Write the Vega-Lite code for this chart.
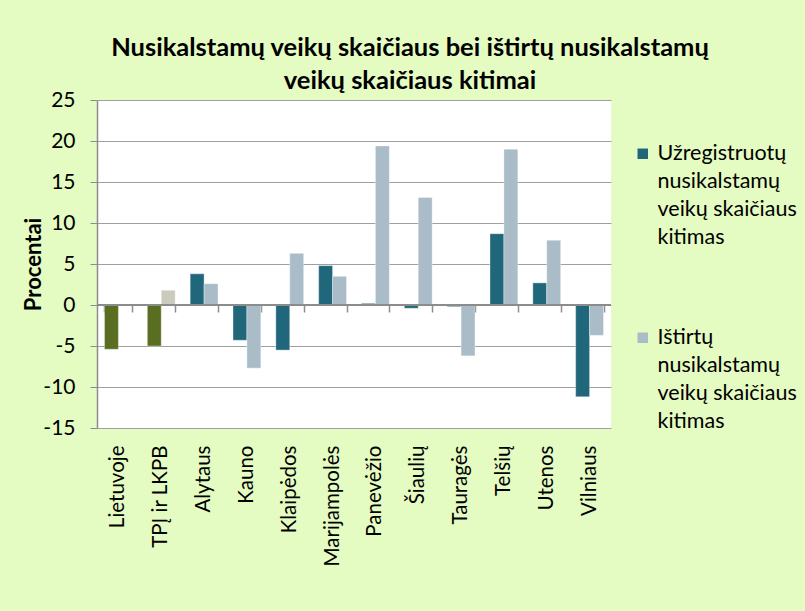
{
  "$schema": "https://vega.github.io/schema/vega-lite/v6.json",
  "autosize": "none",
  "width": 514,
  "height": 328,
  "padding": {"left": 97, "top": 100, "right": 194, "bottom": 183},
  "background": "#e4fbc2",
  "config": {
    "font": "Lato",
    "view": {"stroke": null, "fill": "white"},
    "style": {"guide-label": {"lineHeight": 28}}
  },
  "title": {
    "text": ["Nusikalstamų veikų skaičiaus bei ištirtų nusikalstamų", "veikų skaičiaus kitimai"],
    "font": "Lato",
    "fontSize": 25.5,
    "fontWeight": "bold",
    "color": "#000000",
    "anchor": "middle",
    "frame": "group",
    "dx": 56,
    "offset": -5,
    "lineHeight": 33
  },
  "data": {
    "values": [
      {"kat": "Lietuvoje", "serija": "A", "spalva": "A2", "reiksme": -5.4},
      {"kat": "Lietuvoje", "serija": "B", "spalva": "B2", "reiksme": 0},
      {"kat": "TPĮ ir LKPB", "serija": "A", "spalva": "A2", "reiksme": -5.0},
      {"kat": "TPĮ ir LKPB", "serija": "B", "spalva": "B2", "reiksme": 1.8},
      {"kat": "Alytaus", "serija": "A", "spalva": "A", "reiksme": 3.8},
      {"kat": "Alytaus", "serija": "B", "spalva": "B", "reiksme": 2.6},
      {"kat": "Kauno", "serija": "A", "spalva": "A", "reiksme": -4.3},
      {"kat": "Kauno", "serija": "B", "spalva": "B", "reiksme": -7.7},
      {"kat": "Klaipėdos", "serija": "A", "spalva": "A", "reiksme": -5.5},
      {"kat": "Klaipėdos", "serija": "B", "spalva": "B", "reiksme": 6.3},
      {"kat": "Marijampolės", "serija": "A", "spalva": "A", "reiksme": 4.8},
      {"kat": "Marijampolės", "serija": "B", "spalva": "B", "reiksme": 3.5},
      {"kat": "Panevėžio", "serija": "A", "spalva": "A", "reiksme": 0.2},
      {"kat": "Panevėžio", "serija": "B", "spalva": "B", "reiksme": 19.4},
      {"kat": "Šiaulių", "serija": "A", "spalva": "A", "reiksme": -0.4},
      {"kat": "Šiaulių", "serija": "B", "spalva": "B", "reiksme": 13.1},
      {"kat": "Tauragės", "serija": "A", "spalva": "A", "reiksme": -0.2},
      {"kat": "Tauragės", "serija": "B", "spalva": "B", "reiksme": -6.2},
      {"kat": "Telšių", "serija": "A", "spalva": "A", "reiksme": 8.7},
      {"kat": "Telšių", "serija": "B", "spalva": "B", "reiksme": 19.0},
      {"kat": "Utenos", "serija": "A", "spalva": "A", "reiksme": 2.7},
      {"kat": "Utenos", "serija": "B", "spalva": "B", "reiksme": 7.9},
      {"kat": "Vilniaus", "serija": "A", "spalva": "A", "reiksme": -11.2},
      {"kat": "Vilniaus", "serija": "B", "spalva": "B", "reiksme": -3.7}
    ]
  },
  "resolve": {"axis": {"x": "independent"}},
  "layer": [
    {
      "mark": {"type": "bar", "stroke": "#ffffff", "strokeWidth": 0.6, "strokeOpacity": 0.6},
      "encoding": {
        "x": {
          "field": "kat",
          "type": "nominal",
          "sort": null,
          "scale": {"paddingInner": 0.35, "paddingOuter": 0.175},
          "axis": {
            "title": null,
            "orient": "bottom",
            "labelAngle": -90,
            "labelAlign": "right",
            "labelBaseline": "middle",
            "labelPadding": 17,
            "labelFontSize": 20.5,
            "labelColor": "#000000",
            "labelFont": "Lato",
            "domain": false,
            "ticks": false,
            "labelLimit": 200
          }
        },
        "xOffset": {"field": "serija", "type": "nominal", "scale": {"padding": 0}},
        "y": {
          "field": "reiksme",
          "type": "quantitative",
          "scale": {"domain": [-15, 25], "nice": false},
          "axis": {
            "values": [-15, -10, -5, 0, 5, 10, 15, 20, 25],
            "labelExpr": "replace(datum.label, '−', '-')",
            "title": "Procentai",
            "titleFontSize": 22,
            "titleFontWeight": "bold",
            "titleColor": "#000000",
            "titleFont": "Lato",
            "titleX": -64,
            "titleY": 164,
            "titleAlign": "center",
            "titleBaseline": "middle",
            "labelFontSize": 21,
            "labelColor": "#000000",
            "labelFont": "Lato",
            "labelPadding": 15,
            "tickSize": 7,
            "tickColor": "#8c8c8c",
            "domainColor": "#8c8c8c",
            "domainWidth": 1.5,
            "gridColor": "#a0a0a0",
            "gridWidth": 1
          }
        },
        "color": {
          "field": "spalva",
          "type": "nominal",
          "scale": {
            "domain": ["A", "B", "A2", "B2"],
            "range": ["#21677c", "#a9bcc7", "#5a6e22", "#cacbbc"]
          },
          "legend": {
            "values": ["A", "B"],
            "title": null,
            "orient": "none",
            "legendX": 535,
            "legendY": 43,
            "symbolType": "square",
            "symbolSize": 110,
            "symbolStrokeWidth": 0,
            "labelFontSize": 21.5,
            "labelFont": "Lato",
            "labelColor": "#000000",
            "labelLimit": 300,
            "labelOffset": 4,
            "rowPadding": 77,
            "labelExpr": "datum.value == 'A' ? ['Užregistruotų', 'nusikalstamų', 'veikų skaičiaus', 'kitimas'] : ['Ištirtų', 'nusikalstamų', 'veikų skaičiaus', 'kitimas']"
          }
        }
      }
    },
    {
      "mark": {"type": "rule", "color": "#8c8c8c", "strokeWidth": 1.5},
      "encoding": {"y": {"datum": 0}}
    },
    {
      "mark": {"type": "point", "opacity": 0},
      "encoding": {
        "x": {
          "field": "kat",
          "type": "nominal",
          "sort": null,
          "axis": {
            "title": null,
            "orient": "top",
            "offset": -205,
            "labels": false,
            "domain": false,
            "ticks": true,
            "tickBand": "extent",
            "tickSize": -7,
            "tickColor": "#8c8c8c",
            "tickWidth": 1.5
          }
        },
        "y": {"datum": 0}
      }
    }
  ]
}
